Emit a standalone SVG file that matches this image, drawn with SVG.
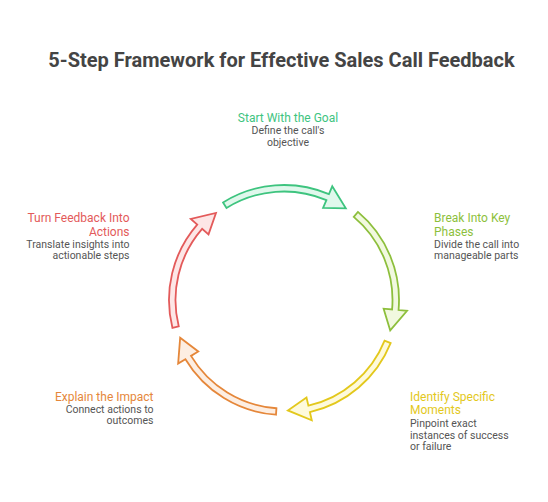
<svg xmlns="http://www.w3.org/2000/svg" xmlns:xlink="http://www.w3.org/1999/xlink" width="548" height="502" viewBox="0 0 548 502">
  <style>
    text { font-family: Roboto, "Liberation Sans", Arial, sans-serif; }
    .title { font-size: 20px; font-weight: bold; fill: #444444; }
    .lbl { font-size: 12px; }
    .desc { font-size: 10.5px; fill: #555555; }
    .arrow { stroke-width: 1.8; stroke-linejoin: miter; }
  </style>
  <defs>
    <path id="arc-arrow" d="M115,0 A115,115 0 0 1 65.961,94.202 L70.837,101.165 L44.944,100.947 L57.358,81.915 L62.233,88.878 A108.5,108.5 0 0 0 108.5,0 Z"/>
  </defs>
  <rect width="548" height="502" fill="#ffffff"/>
  <text class="title" x="281.5" y="67" text-anchor="middle">5-Step Framework for Effective Sales Call Feedback</text>

  <g id="connectors">
    <use xlink:href="#arc-arrow" class="arrow" transform="translate(284,300) rotate(-122)" fill="#e0f8ec" stroke="#3ec47f"/>
    <use xlink:href="#arc-arrow" class="arrow" transform="translate(284,300) rotate(-50)" fill="#f1f9df" stroke="#8dbf3c"/>
    <use xlink:href="#arc-arrow" class="arrow" transform="translate(284,300) rotate(22)" fill="#fefadb" stroke="#e3c81c"/>
    <use xlink:href="#arc-arrow" class="arrow" transform="translate(284,300) rotate(94)" fill="#fdeee2" stroke="#e5873a"/>
    <use xlink:href="#arc-arrow" class="arrow" transform="translate(284,300) rotate(166)" fill="#fde6e6" stroke="#e35a5a"/>
  </g>

  <g id="step-goal">
    <text class="lbl" x="288" y="122.3" text-anchor="middle" fill="#3ec47f">Start With the Goal</text>
    <text class="desc" x="288" y="134.3" text-anchor="middle">Define the call's</text>
    <text class="desc" x="288" y="145.9" text-anchor="middle">objective</text>
  </g>

  <g id="step-phases">
    <text class="lbl" x="434" y="222.3" fill="#8dbf3c">Break Into Key</text>
    <text class="lbl" x="434" y="235.7" fill="#8dbf3c">Phases</text>
    <text class="desc" x="434" y="247.7">Divide the call into</text>
    <text class="desc" x="434" y="259.3">manageable parts</text>
  </g>

  <g id="step-moments">
    <text class="lbl" x="410" y="401" fill="#e3c81c">Identify Specific</text>
    <text class="lbl" x="410" y="414.3" fill="#e3c81c">Moments</text>
    <text class="desc" x="410" y="427">Pinpoint exact</text>
    <text class="desc" x="410" y="438.6">instances of success</text>
    <text class="desc" x="410" y="450.2">or failure</text>
  </g>

  <g id="step-impact">
    <text class="lbl" x="153.5" y="400.7" text-anchor="end" fill="#e5873a">Explain the Impact</text>
    <text class="desc" x="153.5" y="412.7" text-anchor="end">Connect actions to</text>
    <text class="desc" x="153.5" y="424.3" text-anchor="end">outcomes</text>
  </g>

  <g id="step-actions">
    <text class="lbl" x="129.5" y="222.3" text-anchor="end" fill="#e35a5a">Turn Feedback Into</text>
    <text class="lbl" x="129.5" y="235.7" text-anchor="end" fill="#e35a5a">Actions</text>
    <text class="desc" x="129.5" y="247.7" text-anchor="end">Translate insights into</text>
    <text class="desc" x="129.5" y="259.3" text-anchor="end">actionable steps</text>
  </g>
</svg>
